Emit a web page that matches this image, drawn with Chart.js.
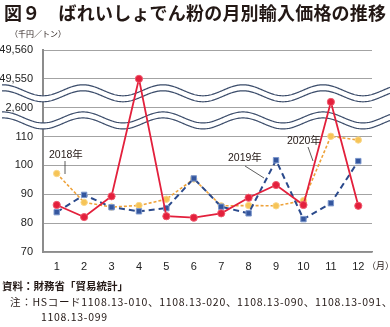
<!DOCTYPE html>
<html>
<head>
<meta charset="utf-8">
<script src="https://cdn.jsdelivr.net/npm/chart.js@4.4.1/dist/chart.umd.min.js"></script>
<style>
  html, body { margin: 0; padding: 0; background: #fff; }
  #wrap { position: relative; width: 390px; height: 327px; overflow: hidden; }
  #chart { position: absolute; left: 0; top: 0; }
  .txt { position: absolute; white-space: nowrap; color: #231815; font-family: "Noto Sans CJK JP", sans-serif; line-height: 1; }
  .title { left: 4px; top: 3px; font-size: 18px; font-weight: bold; letter-spacing: 0.2px; }
  .unit { left: 10px; top: 30px; font-size: 8px; }
  .year { font-size: 10.5px; font-family: "Liberation Sans", "Noto Sans CJK JP", sans-serif; }
  .yj { font-family: "Noto Sans CJK JP", sans-serif; }
  .foot { font-size: 10.5px; }
</style>
</head>
<body>
<div id="wrap">
  <canvas id="chart" width="390" height="327"></canvas>
  <div class="txt title">図９　ばれいしょでん粉の月別輸入価格の推移</div>
  <div class="txt unit">（千円／トン）</div>
  <div class="txt year" style="left:49px;top:149px;">2018<span class="yj">年</span></div>
  <div class="txt year" style="left:228px;top:152px;">2019<span class="yj">年</span></div>
  <div class="txt year" style="left:287px;top:135px;">2020<span class="yj">年</span></div>
  <div class="txt" style="left:367px;top:261px;font-size:9px;">（月）</div>
  <div class="txt foot" style="left:2px;top:281px;font-weight:bold;">資料：財務省「貿易統計」</div>
  <div class="txt foot" style="left:10px;top:297px;letter-spacing:0.7px;">注：HSコード1108.13-010、1108.13-020、1108.13-090、1108.13-091、</div>
  <div class="txt foot" style="left:41px;top:312px;letter-spacing:0.7px;">1108.13-099</div>
</div>
<script>
const months = ["1", "2", "3", "4", "5", "6", "7", "8", "9", "10", "11", "12"];

// 千円/トン
const price2018 = [97.2, 87.2, 85.6, 86.1, 88.3, 95.3, 86.0, 86.1, 86.0, 87.8, 110.1, 108.8];
const price2019 = [83.8, 89.8, 85.5, 84.1, 85.2, 95.5, 85.7, 83.4, 101.8, 81.4, 86.9, 101.5];
const price2020 = [86.3, 82.1, 89.3, 49550, 82.4, 81.9, 83.4, 88.8, 93.2, 86.3, 2602, 86.0];

// broken axis: tick positions on the drawn scale and the label shown there
const yTickValues = [70, 80, 90, 100, 110, 120, 130, 140];
const yTickLabels = ["70", "80", "90", "100", "110", "2,600", "49,550", "49,560"];

// axis break: real value -> position on the drawn scale
function toAxis(v) {
  if (v >= 40000) return v - 49550 + 130;
  if (v >= 1000) return v - 2600 + 120;
  return v;
}

// wavy break marks sit between these scale positions
const breakCenters = [125, 115.6];

const wavePlugin = {
  id: "waves",
  beforeDatasetsDraw(chart) {
    const ctx = chart.ctx;
    const y = chart.scales.y;
    const W = chart.width;
    const period = 80, amp = 5.5, gap = 6, x0 = 43;
    breakCenters.forEach((c) => {
      const cy = y.getPixelForValue(c);
      const f = (x) => cy - gap / 2 + amp * Math.cos((2 * Math.PI * (x - x0)) / period);
      ctx.save();
      ctx.beginPath();
      for (let x = 2; x <= W; x++) {
        if (x === 2) ctx.moveTo(x, f(x));
        else ctx.lineTo(x, f(x));
      }
      for (let x = W; x >= 2; x--) ctx.lineTo(x, f(x) + gap);
      ctx.closePath();
      ctx.fillStyle = "#ffffff";
      ctx.fill();
      ctx.strokeStyle = "#3b4c6a";
      ctx.lineWidth = 1.2;
      ctx.beginPath();
      for (let x = 2; x <= W; x++) {
        if (x === 2) ctx.moveTo(x, f(x));
        else ctx.lineTo(x, f(x));
      }
      ctx.stroke();
      ctx.beginPath();
      for (let x = 2; x <= W; x++) {
        if (x === 2) ctx.moveTo(x, f(x) + gap);
        else ctx.lineTo(x, f(x) + gap);
      }
      ctx.stroke();
      ctx.restore();
    });
  },
  afterDatasetsDraw(chart) {
    // leader lines for the year labels
    const ctx = chart.ctx;
    ctx.save();
    ctx.strokeStyle = "#333";
    ctx.lineWidth = 0.8;
    [
      [65, 161, 65, 174],
      [245, 166, 264, 178],
      [308, 147, 313, 161],
    ].forEach(([a, b, c, d]) => {
      ctx.beginPath();
      ctx.moveTo(a, b);
      ctx.lineTo(c, d);
      ctx.stroke();
    });
    ctx.restore();
  },
};

const ctx = document.getElementById("chart").getContext("2d");

window.priceChart = new Chart(ctx, {
  type: "line",
  data: {
    labels: months,
    datasets: [
      {
        label: "2020年",
        data: price2020.map(toAxis),
        borderColor: "#e3203c",
        backgroundColor: "#e3203c",
        borderWidth: 1.8,
        pointStyle: "circle",
        pointRadius: 3.6,
        pointBackgroundColor: "#e3203c",
        pointBorderColor: "#ef5a6e",
        pointBorderWidth: 1,
        tension: 0,
      },
      {
        label: "2019年",
        data: price2019.map(toAxis),
        borderColor: "#2b4a8c",
        backgroundColor: "#34569e",
        borderWidth: 2,
        borderDash: [6, 4],
        pointStyle: "rect",
        pointRadius: 3.8,
        pointBackgroundColor: "#34569e",
        pointBorderColor: "#7d98cc",
        pointBorderWidth: 1,
        tension: 0,
      },
      {
        label: "2018年",
        data: price2018.map(toAxis),
        borderColor: "#eea23a",
        backgroundColor: "#f6c457",
        borderWidth: 1.6,
        borderDash: [3, 2],
        pointStyle: "circle",
        pointRadius: 3.2,
        pointBackgroundColor: "#f6c457",
        pointBorderColor: "#f9d78a",
        pointBorderWidth: 1,
        tension: 0,
      },
    ],
  },
  options: {
    responsive: false,
    animation: false,
    layout: { padding: { top: 50, right: 18, bottom: 45, left: 0 } },
    plugins: {
      legend: { display: false },
      tooltip: { enabled: false },
    },
    scales: {
      x: {
        offset: true,
        grid: { display: false, drawTicks: false },
        border: { display: true, color: "#8c8c8c", width: 1.5 },
        ticks: {
          padding: 8,
          color: "#222",
          autoSkip: false,
          maxRotation: 0,
          font: { family: "Liberation Sans", size: 11 },
        },
        afterFit: (scale) => { scale.height = 30; },
      },
      y: {
        min: 70,
        max: 140,
        afterBuildTicks: (scale) => {
          scale.ticks = yTickValues.map((v) => ({ value: v }));
        },
        grid: { color: "#a3a3a3", lineWidth: 1, drawTicks: false },
        border: { display: true, color: "#8c8c8c", width: 2 },
        ticks: {
          padding: 10,
          color: "#222",
          autoSkip: false,
          font: { family: "Liberation Sans", size: 11 },
          callback: (value) => yTickLabels[yTickValues.indexOf(value)],
        },
        afterFit: (scale) => { scale.width = 43; },
      },
    },
  },
  plugins: [wavePlugin],
});
</script>
</body>
</html>
